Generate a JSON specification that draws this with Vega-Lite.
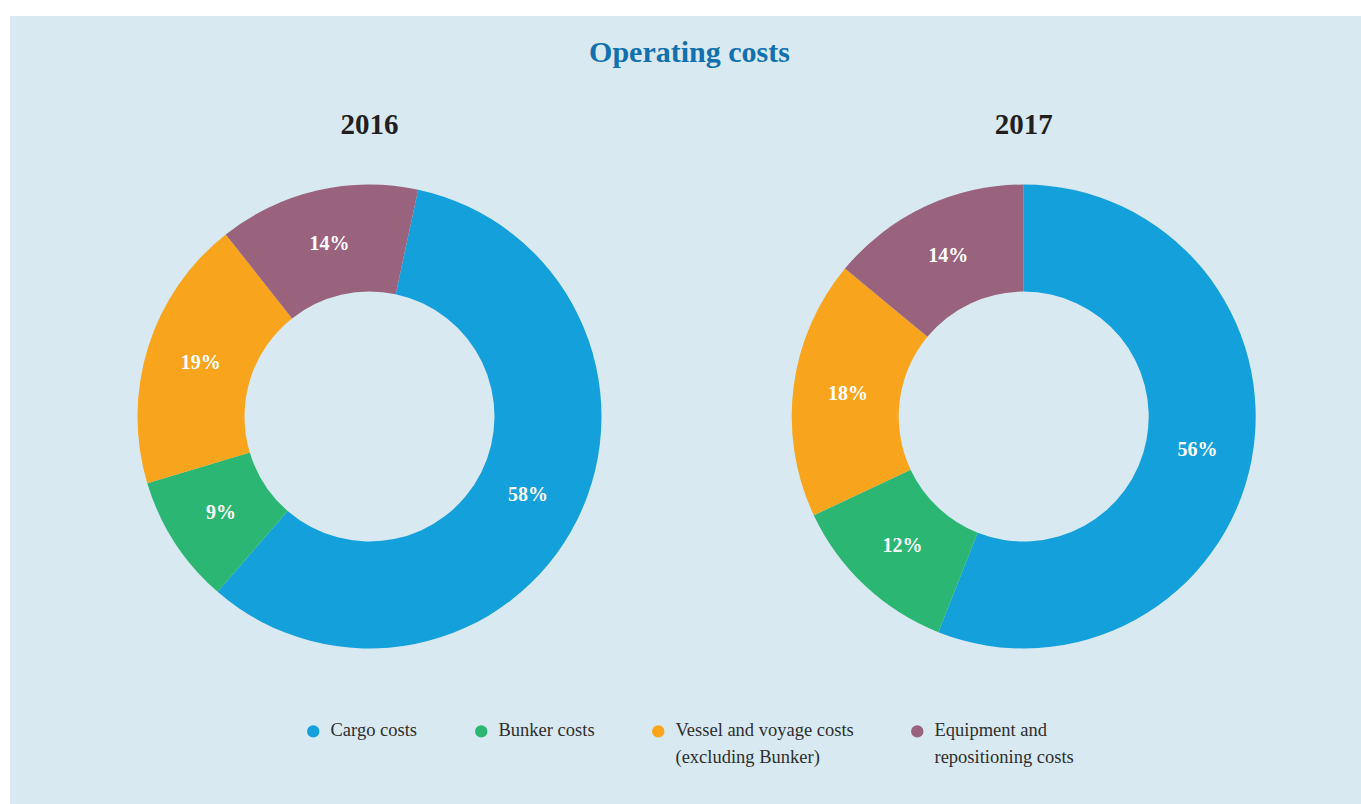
{
  "$schema": "https://vega.github.io/schema/vega-lite/v6.json",
  "width": 1351,
  "height": 788,
  "autosize": {"type": "none"},
  "padding": {"left": 10, "top": 16, "right": 0, "bottom": 0},
  "background": "white",
  "config": {"view": {"fill": "#d8e9f1", "stroke": null}},
  "title": {
    "text": "Operating costs",
    "font": "Liberation Serif",
    "fontSize": 30,
    "fontWeight": "bold",
    "color": "#1170ad",
    "anchor": "middle",
    "frame": "group",
    "baseline": "alphabetic",
    "offset": -76,
    "dx": 4
  },
  "datasets": {
    "shares": [
      {"year": "2016", "category": "Cargo costs", "share": 0.58, "rank": 1},
      {"year": "2016", "category": "Bunker costs", "share": 0.09, "rank": 2},
      {"year": "2016", "category": "Vessel and voyage costs (excluding Bunker)", "share": 0.19, "rank": 3},
      {"year": "2016", "category": "Equipment and repositioning costs", "share": 0.14, "rank": 4},
      {"year": "2017", "category": "Cargo costs", "share": 0.56, "rank": 1},
      {"year": "2017", "category": "Bunker costs", "share": 0.12, "rank": 2},
      {"year": "2017", "category": "Vessel and voyage costs (excluding Bunker)", "share": 0.18, "rank": 3},
      {"year": "2017", "category": "Equipment and repositioning costs", "share": 0.14, "rank": 4}
    ],
    "years": [{"year": "2016"}, {"year": "2017"}]
  },
  "layer": [
    {
      "data": {"name": "shares"},
      "transform": [{"filter": "datum.year == '2016'"}],
      "encoding": {
        "x": {"field": "year", "type": "nominal", "axis": null, "scale": {"type": "point", "domain": ["2016", "2017"], "padding": 0.53256, "align": 0.51593}},
        "theta": {"field": "share", "type": "quantitative", "stack": true, "scale": {"domain": [0, 1], "range": [0.2112, 6.4944]}},
        "order": {"field": "rank", "type": "quantitative"}
      },
      "layer": [
        {
          "mark": {"type": "arc", "innerRadius": 125, "outerRadius": 232, "yOffset": 6.5},
          "encoding": {
            "color": {
              "field": "category",
              "type": "nominal",
              "scale": {
                "domain": ["Cargo costs", "Bunker costs", "Vessel and voyage costs (excluding Bunker)", "Equipment and repositioning costs"],
                "range": ["#14a0da", "#2bb673", "#f8a51d", "#9a637d"]
              },
              "legend": {
                "orient": "none", "legendX": 294, "legendY": 706, "direction": "horizontal", "title": null,
                "symbolType": "circle", "symbolSize": 154, "symbolStrokeWidth": 0, "symbolOpacity": 1,
                "labelFont": "Liberation Serif", "labelFontSize": 18.5, "labelColor": "#2e2e2e",
                "labelOffset": 8, "columnPadding": 54, "labelLimit": 500, "padding": 0,
                "labelBaseline": "alphabetic",
                "labelExpr": "datum.label == 'Vessel and voyage costs (excluding Bunker)' ? ['Vessel and voyage costs', '(excluding Bunker)'] : datum.label == 'Equipment and repositioning costs' ? ['Equipment and', 'repositioning costs'] : [datum.label, '']",
                "encode": {"labels": {"update": {"dy": {"value": 5}, "lineHeight": {"value": 27}}}}
              }
            }
          }
        },
        {
          "mark": {"type": "text", "radius": 177, "yOffset": 6.5, "font": "Liberation Serif", "fontSize": 20, "fontWeight": "bold", "color": "white", "baseline": "middle", "align": "center"},
          "encoding": {
            "detail": {"field": "category", "type": "nominal"},
            "text": {"field": "share", "type": "quantitative", "format": ".0%"}
          }
        }
      ]
    },
    {
      "data": {"name": "shares"},
      "transform": [{"filter": "datum.year == '2017'"}],
      "encoding": {
        "x": {"field": "year", "type": "nominal", "axis": null, "scale": {"type": "point", "domain": ["2016", "2017"], "padding": 0.53256, "align": 0.51593}},
        "theta": {"field": "share", "type": "quantitative", "stack": true, "scale": {"domain": [0, 1], "range": [0, 6.2832]}},
        "order": {"field": "rank", "type": "quantitative"}
      },
      "layer": [
        {
          "mark": {"type": "arc", "innerRadius": 125, "outerRadius": 232, "yOffset": 6.5},
          "encoding": {
            "color": {
              "field": "category",
              "type": "nominal",
              "scale": {
                "domain": ["Cargo costs", "Bunker costs", "Vessel and voyage costs (excluding Bunker)", "Equipment and repositioning costs"],
                "range": ["#14a0da", "#2bb673", "#f8a51d", "#9a637d"]
              },
              "legend": {
                "orient": "none", "legendX": 294, "legendY": 706, "direction": "horizontal", "title": null,
                "symbolType": "circle", "symbolSize": 154, "symbolStrokeWidth": 0, "symbolOpacity": 1,
                "labelFont": "Liberation Serif", "labelFontSize": 18.5, "labelColor": "#2e2e2e",
                "labelOffset": 8, "columnPadding": 54, "labelLimit": 500, "padding": 0,
                "labelBaseline": "alphabetic",
                "labelExpr": "datum.label == 'Vessel and voyage costs (excluding Bunker)' ? ['Vessel and voyage costs', '(excluding Bunker)'] : datum.label == 'Equipment and repositioning costs' ? ['Equipment and', 'repositioning costs'] : [datum.label, '']",
                "encode": {"labels": {"update": {"dy": {"value": 5}, "lineHeight": {"value": 27}}}}
              }
            }
          }
        },
        {
          "mark": {"type": "text", "radius": 177, "yOffset": 6.5, "font": "Liberation Serif", "fontSize": 20, "fontWeight": "bold", "color": "white", "baseline": "middle", "align": "center"},
          "encoding": {
            "detail": {"field": "category", "type": "nominal"},
            "text": {"field": "share", "type": "quantitative", "format": ".0%"}
          }
        }
      ]
    },
    {
      "data": {"name": "years"},
      "mark": {"type": "text", "radius": 292, "theta": 0, "yOffset": 6.5, "font": "Liberation Serif", "fontSize": 29, "fontWeight": "bold", "color": "#231f20", "baseline": "middle", "align": "center"},
      "encoding": {
        "x": {"field": "year", "type": "nominal", "axis": null, "scale": {"type": "point", "domain": ["2016", "2017"], "padding": 0.53256, "align": 0.51593}},
        "text": {"field": "year", "type": "nominal"}
      }
    }
  ],
  "resolve": {"scale": {"theta": "independent"}}
}
